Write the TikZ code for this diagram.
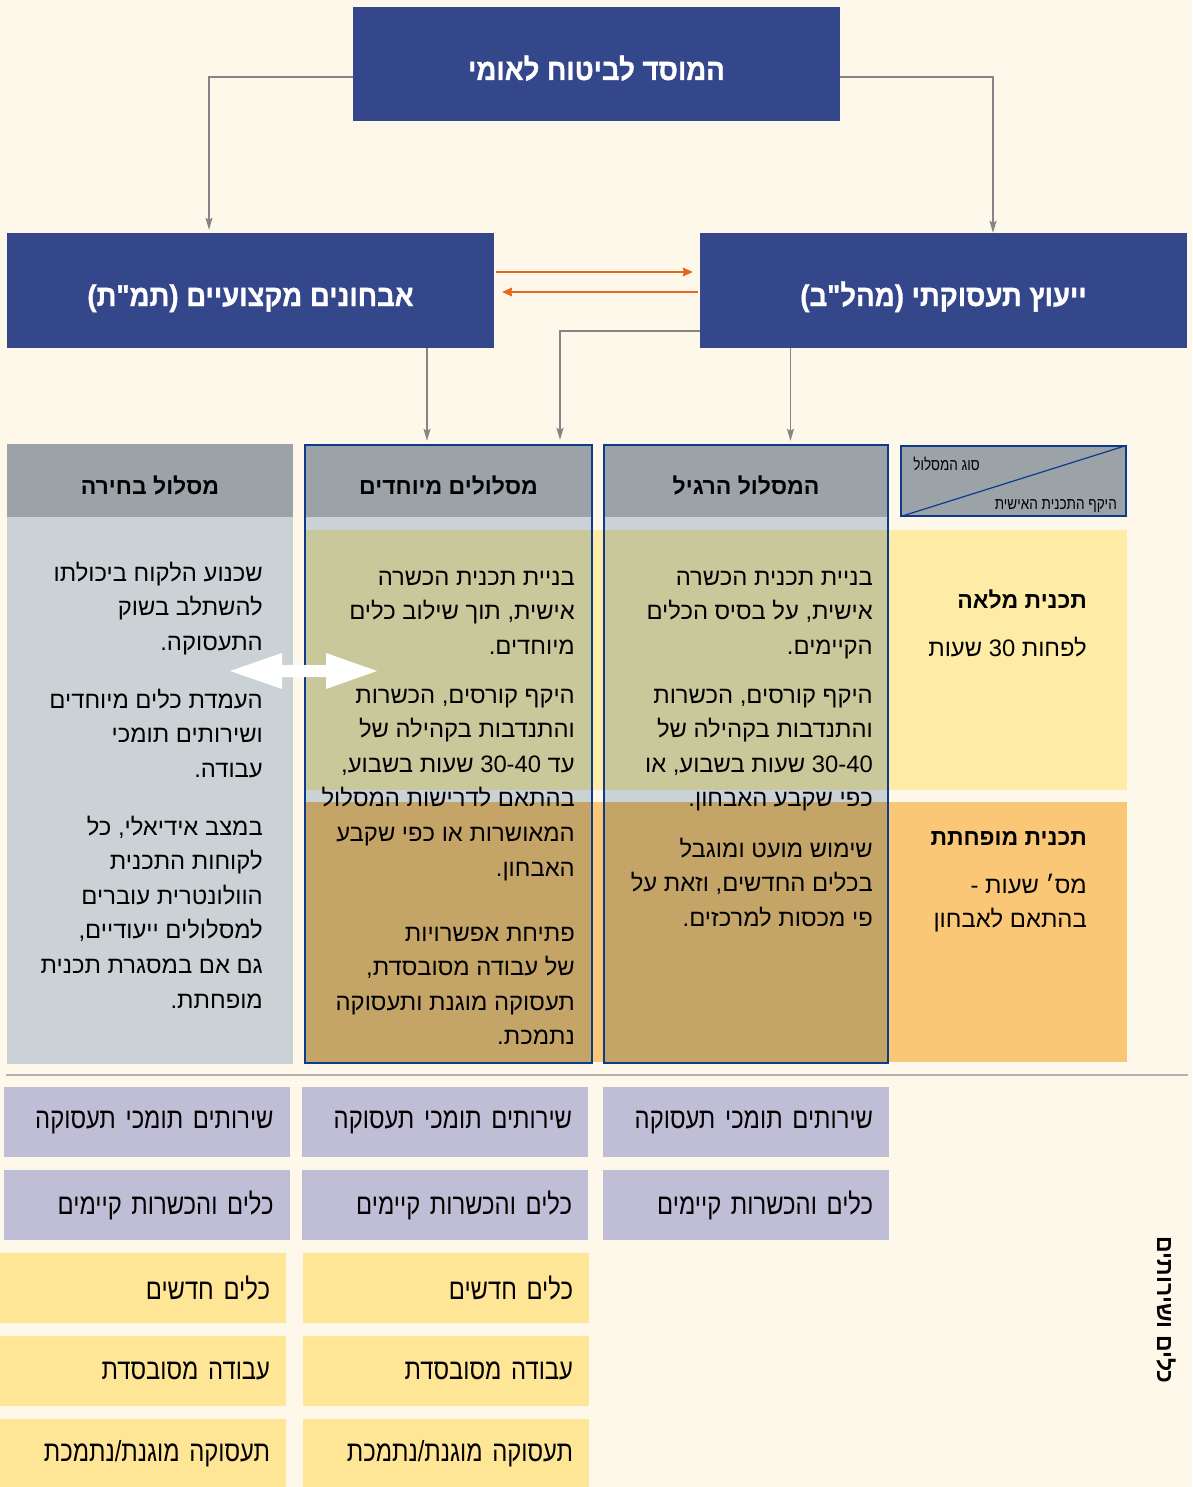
\documentclass[tikz,border=0pt]{standalone}
\usepackage{fontspec}
\usetikzlibrary{arrows.meta}
\setmainfont{Liberation Sans}
\newfontfamily\heb[Script=Hebrew]{Liberation Sans}
\newfontfamily\hebc[Script=Hebrew,FakeStretch=0.82]{Liberation Sans}
\newfontfamily\hebt[Script=Hebrew,FakeStretch=0.92,FakeBold=1]{Liberation Sans Bold}
\TeXXeTstate=1
\definecolor{bg}{HTML}{FEF8EA}
\definecolor{mblue}{HTML}{34478A}
\definecolor{bord}{HTML}{0D3B8C}
\definecolor{hgray}{HTML}{9BA3A9}
\definecolor{lgray}{HTML}{CBD2D6}
\definecolor{olivec}{HTML}{C8C89A}
\definecolor{tanc}{HTML}{C4A567}
\definecolor{byel}{HTML}{FDEBA6}
\definecolor{bora}{HTML}{F9C776}
\definecolor{lav}{HTML}{C0BED6}
\definecolor{yelc}{HTML}{FFE596}
\definecolor{orng}{HTML}{E8661C}
\definecolor{conn}{HTML}{858585}
\newcommand\hpara[4]{\foreach \ln [count=\i] in {#4}{\node[bodytxt] (#1-\i) at (#2,{#3+34.6*(\i-1)}) {\ln};}}
\begin{document}
\begin{tikzpicture}[x=1pt,y=-1pt,
  bluebox/.style={fill=mblue,draw=none,inner sep=0pt,minimum width=487pt},
  titletxt/.style={anchor=base,inner sep=0pt,text=white,font=\hebt\fontsize{30}{33}\selectfont},
  bodytxt/.style={anchor=base east,inner sep=0pt,text=black,font=\heb\fontsize{23.8}{27}\selectfont},
  headtxt/.style={anchor=base,inner sep=0pt,text=black,font=\heb\bfseries\fontsize{23}{26}\selectfont},
  rowhead/.style={anchor=base east,inner sep=0pt,text=black,font=\heb\bfseries\fontsize{23}{26}\selectfont},
  legtxt/.style={anchor=base east,inner sep=0pt,text=black,font=\hebc\fontsize{16.5}{18}\selectfont},
  colframe/.style={draw=bord,line width=2.4pt,fill=none,inner sep=0pt,minimum height=618pt},
  botbox/.style={draw=none,inner ysep=0pt,inner xsep=16pt,minimum height=70pt,text width=254pt,align=right,text=black,font=\hebc\fontsize{29}{32}\selectfont},
  connarrow/.style={draw=conn,line width=1.3pt,-{Stealth[length=12pt,width=7pt,inset=2pt]}},
  orarrow/.style={draw=orng,line width=1.2pt,-{Stealth[length=10pt,width=9pt,inset=1pt]}}
]
\fill[bg] (0,0) rectangle (1192,1487);
\useasboundingbox (0,0) rectangle (1192,1487);

% top boxes
\node[bluebox,minimum height=114pt] (top) at (596.5,64) {};
\node[bluebox,minimum height=115pt] (left) at (250.5,290.5) {};
\node[bluebox,minimum height=115pt] (right) at (943.5,290.5) {};
\node[titletxt] (topT) at (596.5,80) {\beginR המוסד לביטוח לאומי\endR};
\node[titletxt] (leftT) at (250.5,306) {\beginR אבחונים מקצועיים (תמ"ת)\endR};
\node[titletxt] (rightT) at (943.5,306) {\beginR ייעוץ תעסוקתי (מהל"ב)\endR};

% table background fills
\fill[hgray] (7,444) rectangle (293,517);
\fill[lgray] (7,517) rectangle (293,1064);
\fill[byel] (305,530) rectangle (1127,790);
\fill[bora] (305,802) rectangle (1127,1062);
\fill[hgray] (305,445) rectangle (592,517);
\fill[lgray] (305,517) rectangle (592,1063);
\fill[olivec] (305,530) rectangle (592,790);
\fill[tanc] (305,802) rectangle (592,1063);
\fill[hgray] (604,445) rectangle (888,517);
\fill[lgray] (604,517) rectangle (888,1063);
\fill[olivec] (604,530) rectangle (888,790);
\fill[tanc] (604,802) rectangle (888,1063);

% column frames
\node[colframe,minimum width=287pt] (col2) at (448.5,754) {};
\node[colframe,minimum width=284pt] (col3) at (746,754) {};
\node[inner sep=0pt,minimum width=286pt,minimum height=620pt] (col1) at (150,754) {};

% legend
\node[draw=bord,line width=1.2pt,fill=hgray,inner sep=0pt,minimum width=225pt,minimum height=70pt] (legend) at (1013.5,481) {};
\draw[bord,line width=1.2pt] (legend.south west) -- (legend.north east);
\node[legtxt] (legA) at (980,470) {\beginR סוג המסלול\endR};
\node[legtxt] (legB) at (1117,509) {\beginR היקף התכנית האישית\endR};

% headers
\node[headtxt] (h1) at (150,494) {\beginR מסלול בחירה\endR};
\node[headtxt] (h2) at (448.5,494) {\beginR מסלולים מיוחדים\endR};
\node[headtxt] (h3) at (746,494) {\beginR המסלול הרגיל\endR};

% row heads
\node[rowhead] (r1) at (1087,608) {\beginR תכנית מלאה\endR};
\node[bodytxt] (r1b) at (1087,656) {\beginR לפחות \beginL30\endL{} שעות\endR};
\node[rowhead] (r2) at (1087,845) {\beginR תכנית מופחתת\endR};
\node[bodytxt] (r2b) at (1087,893) {\beginR מס׳ שעות -\endR};
\node[bodytxt] (r2c) at (1087,927) {\beginR בהתאם לאבחון\endR};

% column 3 text
\hpara{c3a}{873}{585}{{\beginR בניית תכנית הכשרה\endR},{\beginR אישית, על בסיס הכלים\endR},{\beginR הקיימים.\endR}}
\hpara{c3b}{873}{703}{{\beginR היקף קורסים, הכשרות\endR},{\beginR והתנדבות בקהילה של\endR},{\beginR \beginL30-40\endL{} שעות בשבוע, או\endR},{\beginR כפי שקבע האבחון.\endR}}
\hpara{c3c}{873}{857}{{\beginR שימוש מועט ומוגבל\endR},{\beginR בכלים החדשים, וזאת על\endR},{\beginR פי מכסות למרכזים.\endR}}
% column 2 text
\hpara{c2a}{575}{585}{{\beginR בניית תכנית הכשרה\endR},{\beginR אישית, תוך שילוב כלים\endR},{\beginR מיוחדים.\endR}}
\hpara{c2b}{575}{703}{{\beginR היקף קורסים, הכשרות\endR},{\beginR והתנדבות בקהילה של\endR},{\beginR עד \beginL30-40\endL{} שעות בשבוע,\endR},{\beginR בהתאם לדרישות המסלול\endR},{\beginR המאושרות או כפי שקבע\endR},{\beginR האבחון.\endR}}
\hpara{c2c}{575}{941}{{\beginR פתיחת אפשרויות\endR},{\beginR של עבודה מסובסדת,\endR},{\beginR תעסוקה מוגנת ותעסוקה\endR},{\beginR נתמכת.\endR}}
% column 1 text
\hpara{c1a}{263}{581}{{\beginR שכנוע הלקוח ביכולתו\endR},{\beginR להשתלב בשוק\endR},{\beginR התעסוקה.\endR}}
\hpara{c1b}{263}{708}{{\beginR העמדת כלים מיוחדים\endR},{\beginR ושירותים תומכי\endR},{\beginR עבודה.\endR}}
\hpara{c1c}{263}{835}{{\beginR במצב אידיאלי, כל\endR},{\beginR לקוחות התכנית\endR},{\beginR הוולונטרית עוברים\endR},{\beginR למסלולים ייעודיים,\endR},{\beginR גם אם במסגרת תכנית\endR},{\beginR מופחתת.\endR}}

% connectors
\draw[connarrow,shorten >=3pt] ([yshift=-13pt]top.west) -| ([xshift=-41.5pt]left.north);
\draw[connarrow] ([yshift=-13pt]top.east) -| ([xshift=49.5pt]right.north);
\draw[connarrow,shorten >=3pt] ([xshift=176.5pt]left.south) -- ([xshift=-21.5pt]col2.north);
\draw[connarrow,shorten >=4pt] ([yshift=-40.5pt]right.west) -| ([xshift=111.5pt]col2.north);
\draw[connarrow,shorten >=3pt] ([xshift=-153pt]right.south) -- ([xshift=44.5pt]col3.north);
\draw[orarrow,shorten <=2pt,shorten >=7pt] ([yshift=18.5pt]left.east) -- ([yshift=18.5pt]right.west);
\draw[orarrow,shorten <=2pt,shorten >=8pt] ([yshift=-1.5pt]right.west) -- ([yshift=-1.5pt]left.east);

% white double arrow
\fill[white] (230,671) -- (282,653) -- (282,665) -- (326,665) -- (326,653) -- (377,671) -- (326,689) -- (326,677) -- (282,677) -- (282,689) -- cycle;

% separator
\draw[color=black!30,line width=1.6pt] (6,1075) -- (1188,1075);

% bottom boxes
\node[botbox,fill=lav] (b31) at (746,1122) {\beginR שירותים תומכי תעסוקה\endR};
\node[botbox,fill=lav] (b32) at (746,1205) {\beginR כלים והכשרות קיימים\endR};
\node[botbox,fill=lav] (b21) at (445,1122) {\beginR שירותים תומכי תעסוקה\endR};
\node[botbox,fill=lav] (b22) at (445,1205) {\beginR כלים והכשרות קיימים\endR};
\node[botbox,fill=yelc] (b23) at (446,1288) {\beginR כלים חדשים\endR};
\node[botbox,fill=yelc] (b24) at (446,1371) {\beginR עבודה מסובסדת\endR};
\node[botbox,fill=yelc] (b25) at (446,1454) {\beginR תעסוקה מוגנת/נתמכת\endR};
\node[botbox,fill=lav] (b11) at (146.5,1122) {\beginR שירותים תומכי תעסוקה\endR};
\node[botbox,fill=lav] (b12) at (146.5,1205) {\beginR כלים והכשרות קיימים\endR};
\node[botbox,fill=yelc] (b13) at (143,1288) {\beginR כלים חדשים\endR};
\node[botbox,fill=yelc] (b14) at (143,1371) {\beginR עבודה מסובסדת\endR};
\node[botbox,fill=yelc] (b15) at (143,1454) {\beginR תעסוקה מוגנת/נתמכת\endR};

% vertical label
\node[headtxt,anchor=center,rotate=-90] (side) at (1166,1310) {\beginR כלים ושירותים\endR};
\end{tikzpicture}
\end{document}
